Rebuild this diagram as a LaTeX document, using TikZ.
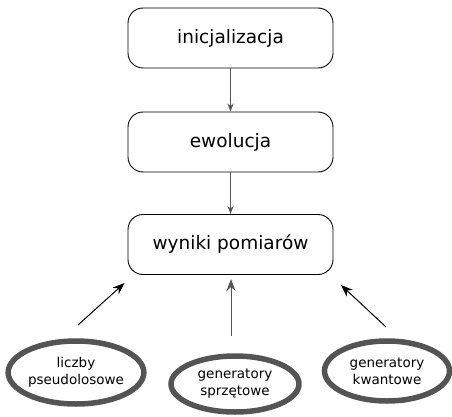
\documentclass[tikz,border=0pt]{standalone}
\usepackage{fontspec}
\setmainfont{DejaVu Sans}
\usetikzlibrary{shapes.geometric,arrows.meta}
\begin{document}
\begin{tikzpicture}[x=1pt,y=-1pt,
  stepbox/.style={draw=black, line width=0.9pt, rounded corners=15pt, minimum width=205pt, minimum height=60pt, font=\fontsize{18.5}{22}\selectfont, inner sep=0pt},
  src/.style={draw=black!67, line width=5.5pt, ellipse, inner sep=0pt, align=center, font=\fontsize{13.5}{17}\selectfont},
  arr/.style={line width=1pt, -{Stealth[length=12pt,width=9pt,inset=4pt]}},
  smallarr/.style={line width=1pt, draw=black!67, -{Stealth[length=8pt,width=6pt,inset=2.5pt]}},
  grayarr/.style={arr, draw=black!67}
]
\useasboundingbox (0,0) rectangle (452,417);
\node[stepbox] (b1) at (230.5,38) {inicjalizacja};
\node[stepbox] (b2) at (230.5,142) {ewolucja};
\node[stepbox] (b3) at (230.5,244.5) {wyniki pomiarów};
\draw[smallarr] (b1) -- (b2);
\draw[smallarr] (b2) -- (b3);
\node[src, minimum width=129pt, minimum height=63pt] (e1) at (76,372.5) {liczby\\pseudolosowe};
\node[src, minimum width=128pt, minimum height=56pt] (e2) at (235,384) {generatory\\sprzętowe};
\node[src, minimum width=125pt, minimum height=60pt] (e3) at (387,371) {generatory\\kwantowe};
\coordinate (s1) at (78,325);
\coordinate (t1) at (124.5,283);
\coordinate (s2) at (231,336);
\coordinate (t2) at (231,279);
\coordinate (s3) at (386,327);
\coordinate (t3) at (341,285);
\draw[arr] (s1) -- (t1);
\draw[grayarr] (s2) -- (t2);
\draw[arr] (s3) -- (t3);
\end{tikzpicture}
\end{document}
